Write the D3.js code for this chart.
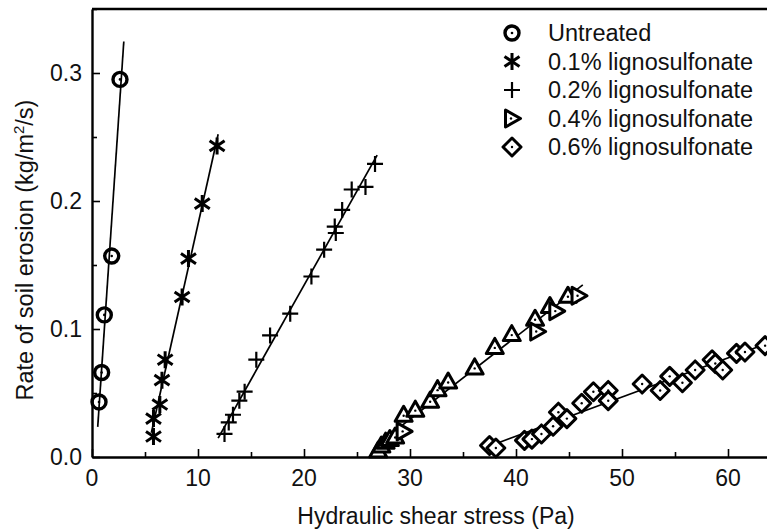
<!DOCTYPE html>
<html>
<head>
<meta charset="utf-8">
<script src="https://cdn.jsdelivr.net/npm/d3@7"></script>
<style>
  body { margin: 0; background: #fff; }
  svg { display: block; font-family: "Liberation Sans", Arial, sans-serif; }
</style>
</head>
<body>
<svg id="chart" width="767" height="532"></svg>
<script>
// values
const untreatedX = [0.66, 0.91, 1.16, 1.86, 2.64];
const untreatedY = [0.043, 0.066, 0.111, 0.157, 0.295];

const lig01X = [5.8, 5.8, 6.4, 6.6, 6.9, 8.5, 9.1, 10.4, 11.8];
const lig01Y = [0.016, 0.030, 0.041, 0.060, 0.076, 0.125, 0.155, 0.198, 0.243];

const lig02X = [12.5, 12.9, 13.3, 13.9, 14.4, 15.5, 16.8, 18.7, 20.7, 21.9, 23.0, 22.9, 23.6, 24.5, 25.8, 26.7];
const lig02Y = [0.018, 0.027, 0.033, 0.044, 0.051, 0.076, 0.095, 0.112, 0.141, 0.162, 0.175, 0.180, 0.193, 0.209, 0.211, 0.229];

// 0.4% series: some points drawn pointing up, some pointing right
const lig04UpX = [27.0, 27.3, 27.7, 28.1, 28.6, 29.4, 30.5, 31.9, 32.6, 33.6, 36.1, 38.0, 39.6, 41.8, 43.2, 44.9];
const lig04UpY = [0.005, 0.009, 0.012, 0.014, 0.016, 0.033, 0.037, 0.044, 0.053, 0.059, 0.070, 0.086, 0.096, 0.108, 0.118, 0.126];
const lig04RightX = [29.4, 42.0, 43.8, 45.9];
const lig04RightY = [0.020, 0.098, 0.114, 0.126];

const lig06X = [37.5, 38.1, 40.8, 41.5, 42.4, 43.5, 44.0, 44.8, 46.2, 47.3, 48.7, 48.7, 51.9, 53.6, 54.5, 55.7, 56.9, 58.5, 58.8, 59.5, 60.8, 61.6, 63.5];
const lig06Y = [0.009, 0.007, 0.013, 0.014, 0.018, 0.024, 0.035, 0.030, 0.042, 0.051, 0.052, 0.044, 0.057, 0.052, 0.063, 0.058, 0.068, 0.076, 0.073, 0.068, 0.081, 0.082, 0.087];

// x extent of each fitted line
const fitRanges = [[0.54, 3.0], [5.6, 11.9], [11.9, 26.9], [26.8, 46.3], [37.9, 66]];

const legendLabels = ["Untreated", "0.1% lignosulfonate", "0.2% lignosulfonate", "0.4% lignosulfonate", "0.6% lignosulfonate"];
const xTicks = [0, 10, 20, 30, 40, 50, 60];
const yTicks = [0, 0.1, 0.2, 0.3];

const svg = d3.select("#chart");
const plotLeft = 92, plotTop = 9, plotBottom = 457;

const x = d3.scaleLinear().domain([0, 65]).range([plotLeft, plotLeft + 65 * 10.6]);
const y = d3.scaleLinear().domain([0, 0.35]).range([plotBottom, plotTop]);

const zip = (xs, ys) => xs.map((v, i) => [v, ys[i]]);

const series = [
    { pts: zip(untreatedX, untreatedY), sym: "circle" },
    { pts: zip(lig01X, lig01Y), sym: "star" },
    { pts: zip(lig02X, lig02Y), sym: "plus" },
    { pts: zip(lig04UpX, lig04UpY), sym: "triUp", extra: zip(lig04RightX, lig04RightY), extraSym: "triRight" },
    { pts: zip(lig06X, lig06Y), sym: "diamond" }
];

// least squares fit
function fit(pts) {
    const mx = d3.mean(pts, d => d[0]), my = d3.mean(pts, d => d[1]);
    let sxy = 0, sxx = 0;
    pts.forEach(d => { sxy += (d[0] - mx) * (d[1] - my); sxx += (d[0] - mx) ** 2; });
    const b = sxy / sxx;
    return v => my + b * (v - mx);
}

// marker drawing
function drawSym(g, sym) {
    const k = "#000";
    if (sym == "circle") {
        g.append("circle").attr("r", 7).attr("fill", "none").attr("stroke", k).attr("stroke-width", 3.4);
        g.append("circle").attr("r", 1.3).attr("fill", k);
    } else if (sym == "star") {
        const a = 8.5, b = 7.5;
        g.append("path").attr("d", `M0,${-a}V${a}M${-b},${-a*0.6}L${b},${a*0.6}M${-b},${a*0.6}L${b},${-a*0.6}`)
            .attr("stroke", k).attr("stroke-width", 3).attr("fill", "none");
    } else if (sym == "plus") {
        const a = 8;
        g.append("path").attr("d", `M${-a},0H${a}M0,${-a}V${a}`)
            .attr("stroke", k).attr("stroke-width", 2.2).attr("fill", "none");
    } else if (sym == "triUp") {
        g.append("path").attr("d", "M-8.5,6.5L0,-8.5L8.5,6.5Z")
            .attr("stroke", k).attr("stroke-width", 3).attr("fill", "#fff").attr("stroke-linejoin", "round");
        g.append("circle").attr("cy", 1).attr("r", 1.2).attr("fill", k);
    } else if (sym == "triRight") {
        g.append("path").attr("d", "M-6.5,-8.5L8.5,0L-6.5,8.5Z")
            .attr("stroke", k).attr("stroke-width", 3).attr("fill", "#fff").attr("stroke-linejoin", "round");
        g.append("circle").attr("cx", -1).attr("r", 1.2).attr("fill", k);
    } else if (sym == "diamond") {
        g.append("path").attr("d", "M0,-9L9,0L0,9L-9,0Z")
            .attr("stroke", k).attr("stroke-width", 3).attr("fill", "#fff").attr("stroke-linejoin", "round");
        g.append("circle").attr("r", 1.2).attr("fill", k);
    }
}

// fit lines
const lineG = svg.append("g");
series.forEach((s, i) => {
    const all = s.extra ? s.pts.concat(s.extra) : s.pts;
    const f = fit(all);
    const r = fitRanges[i];
    lineG.append("line")
        .attr("x1", x(r[0])).attr("y1", y(f(r[0])))
        .attr("x2", x(r[1])).attr("y2", y(f(r[1])))
        .attr("stroke", "#000").attr("stroke-width", 1.7);
});

// points
const ptG = svg.append("g");
series.forEach(s => {
    s.pts.forEach(d => {
        drawSym(ptG.append("g").attr("transform", `translate(${x(d[0])},${y(d[1])})`), s.sym);
    });
    if (s.extra) s.extra.forEach(d => {
        drawSym(ptG.append("g").attr("transform", `translate(${x(d[0])},${y(d[1])})`), s.extraSym);
    });
});

// axes
const xAxis = svg.append("g").attr("transform", `translate(0,${plotBottom})`)
    .call(d3.axisBottom(x).tickValues(d3.range(0, 66, 5)).tickSizeInner(-8).tickSizeOuter(0).tickFormat(""));
xAxis.selectAll(".tick line").attr("y2", d => d % 10 == 0 ? -8 : -5).attr("stroke-width", 1.6);
xAxis.select(".domain").attr("stroke-width", 2.4);

const yAxis = svg.append("g").attr("transform", `translate(${plotLeft},0)`)
    .call(d3.axisLeft(y).tickValues(d3.range(0, 0.351, 0.05)).tickSizeInner(-8).tickSizeOuter(0).tickFormat(""));
yAxis.selectAll(".tick line").attr("x2", (d, i) => i % 2 == 0 ? 8 : 5).attr("stroke-width", 1.6);
yAxis.select(".domain").attr("stroke-width", 2.4);

// top frame line
svg.append("line").attr("x1", plotLeft).attr("x2", 767).attr("y1", plotTop).attr("y2", plotTop)
    .attr("stroke", "#000").attr("stroke-width", 2.4);

// tick labels
svg.append("g").selectAll("text").data(xTicks).join("text")
    .attr("x", d => x(d)).attr("y", 486)
    .attr("text-anchor", "middle").attr("font-size", 23).attr("fill", "#111")
    .text(d => d);

svg.append("g").selectAll("text").data(yTicks).join("text")
    .attr("x", 82).attr("y", d => y(d)).attr("dy", "0.36em")
    .attr("text-anchor", "end").attr("font-size", 23).attr("fill", "#111")
    .text(d => d3.format(".1f")(d));

// axis titles
svg.append("text").attr("x", 436).attr("y", 524)
    .attr("text-anchor", "middle").attr("font-size", 23).attr("fill", "#111")
    .text("Hydraulic shear stress (Pa)");

const yl = svg.append("text").attr("transform", "translate(33,250) rotate(-90)")
    .attr("text-anchor", "middle").attr("font-size", 23.5).attr("fill", "#111");
yl.append("tspan").text("Rate of soil erosion (kg/m");
yl.append("tspan").attr("font-size", 15).attr("dy", -9).text("2");
yl.append("tspan").attr("dy", 9).text("/s)");

// legend
const legSyms = ["circle", "star", "plus", "triRight", "diamond"];
const leg = svg.append("g");
legendLabels.forEach((t, i) => {
    const ly = 33 + i * 28.5;
    drawSym(leg.append("g").attr("transform", `translate(512,${ly})`), legSyms[i]);
    leg.append("text").attr("x", 548).attr("y", ly).attr("dy", "0.36em")
        .attr("font-size", 23.5).attr("fill", "#111").text(t);
});
</script>
</body>
</html>
